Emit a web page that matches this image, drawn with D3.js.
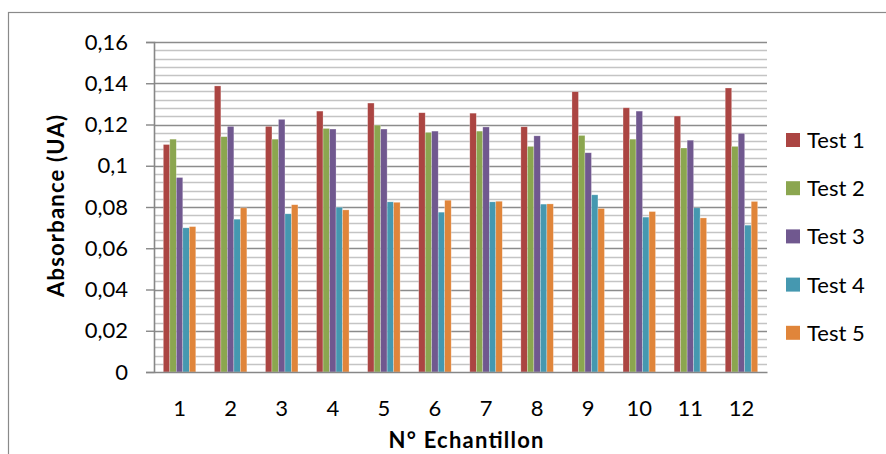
<!DOCTYPE html>
<html><head><meta charset="utf-8">
<script src="https://cdn.jsdelivr.net/npm/d3@7"></script>
<style>body{margin:0;background:#fff;} svg{display:block;}</style>
</head><body>
<svg id="c" width="886" height="454"></svg>
<script>
const categories = ["1","2","3","4","5","6","7","8","9","10","11","12"];
const seriesNames = ["Test 1","Test 2","Test 3","Test 4","Test 5"];
const test1 = [0.1103,0.1387,0.1191,0.1265,0.1304,0.1257,0.1255,0.1189,0.1359,0.1281,0.1241,0.1377];
const test2 = [0.1129,0.1141,0.1129,0.1181,0.1197,0.1162,0.1168,0.1094,0.1147,0.1129,0.1086,0.1094];
const test3 = [0.0943,0.1191,0.1225,0.1178,0.1178,0.1168,0.1188,0.1145,0.1063,0.1265,0.1124,0.1157];
const test4 = [0.0699,0.0741,0.0767,0.0799,0.0825,0.0775,0.0825,0.0814,0.0859,0.0751,0.0796,0.0712];
const test5 = [0.0705,0.0796,0.0811,0.0786,0.0823,0.0833,0.0828,0.0815,0.0793,0.0778,0.0747,0.0827];
const yTicks = [0,0.02,0.04,0.06,0.08,0.1,0.12,0.14,0.16];
const yTickLabels = ["0","0,02","0,04","0,06","0,08","0,1","0,12","0,14","0,16"];
const colors = ["#AB4542","#8BA64F","#70588F","#4598B0","#E0853A"];
const allSeries = [test1,test2,test3,test4,test5];

const svg = d3.select("#c");
const font = "Lato, 'Open Sans', sans-serif";
const L = 154, R = 767, T = 42, B = 372;

// outer border
svg.append("rect").attr("x",8.5).attr("y",12.5).attr("width",900).attr("height",500)
  .attr("fill","none").attr("stroke","#8a8a8a").attr("stroke-width",1.2);

const y = d3.scaleLinear().domain([0,0.16]).range([B,T]);
const x = d3.scaleBand().domain(categories).range([L,R]).paddingInner(0).paddingOuter(0);
const bw = x.bandwidth();
const gw = bw*0.636;
const xs = d3.scaleBand().domain(seriesNames).range([(bw-gw)/2,(bw+gw)/2]).padding(0);

// gridlines
const grid = d3.range(1,41).map(i=>i*0.004);
svg.append("g").selectAll("line").data(grid).join("line")
  .attr("x1",L).attr("x2",R)
  .attr("y1",d=>Math.round(y(d))+0.5).attr("y2",d=>Math.round(y(d))+0.5)
  .attr("stroke",(d,i)=>((i+1)%5===0)?"#8c8c8c":"#c4c4c4")
  .attr("stroke-width",1.6);

// bars
const gs = svg.append("g").selectAll("g").data(categories).join("g")
  .attr("transform",d=>`translate(${x(d)},0)`);
gs.selectAll("rect").data((c,ci)=>seriesNames.map((s,si)=>({s,si,v:allSeries[si][ci]})))
  .join("rect")
  .attr("x",d=>xs(d.s)).attr("width",xs.bandwidth())
  .attr("y",d=>y(d.v)).attr("height",d=>y(0)-y(d.v))
  .attr("fill",d=>colors[d.si])
  .attr("stroke","rgba(255,255,255,0.45)").attr("stroke-width",0.6);

// y axis
const yAxis = d3.axisLeft(y).tickValues(yTicks).tickSize(8).tickPadding(18)
  .tickFormat((d,i)=>yTickLabels[i]);
const ya = svg.append("g").attr("transform",`translate(${L},0)`).call(yAxis);
ya.select(".domain").attr("stroke","#878787").attr("stroke-width",1.6);
ya.selectAll(".tick line").attr("stroke","#878787").attr("stroke-width",1.4);
ya.selectAll("text").attr("font-family",font).attr("font-size",22).attr("fill","#000");

// x axis
const xAxis = d3.axisBottom(x).tickSize(0).tickPadding(28);
const xa = svg.append("g").attr("transform",`translate(0,${B})`).call(xAxis);
xa.select(".domain").attr("stroke","#878787").attr("stroke-width",1.6);
xa.selectAll("text").attr("font-family",font).attr("font-size",22).attr("fill","#000");

// axis titles
svg.append("text").attr("x",466).attr("y",448).attr("text-anchor","middle")
  .attr("font-family",font).attr("font-weight","bold").attr("font-size",22)
  .attr("textLength",155).attr("lengthAdjust","spacing").text("N° Echantillon");
svg.append("text").attr("transform","translate(64,206) rotate(-90)").attr("text-anchor","middle")
  .attr("font-family",font).attr("font-weight","bold").attr("font-size",22)
  .attr("textLength",182).attr("lengthAdjust","spacing").text("Absorbance (UA)");

// legend
const lg = svg.append("g").selectAll("g").data(seriesNames).join("g")
  .attr("transform",(d,i)=>`translate(786,${140+i*48.2})`);
lg.append("rect").attr("x",0).attr("y",-7).attr("width",14).attr("height",14)
  .attr("fill",(d,i)=>colors[i]);
lg.append("text").attr("x",21).attr("y",0).attr("dy","0.36em")
  .attr("font-family",font).attr("font-size",22).attr("fill","#000").text(d=>d);
</script>
</body></html>
